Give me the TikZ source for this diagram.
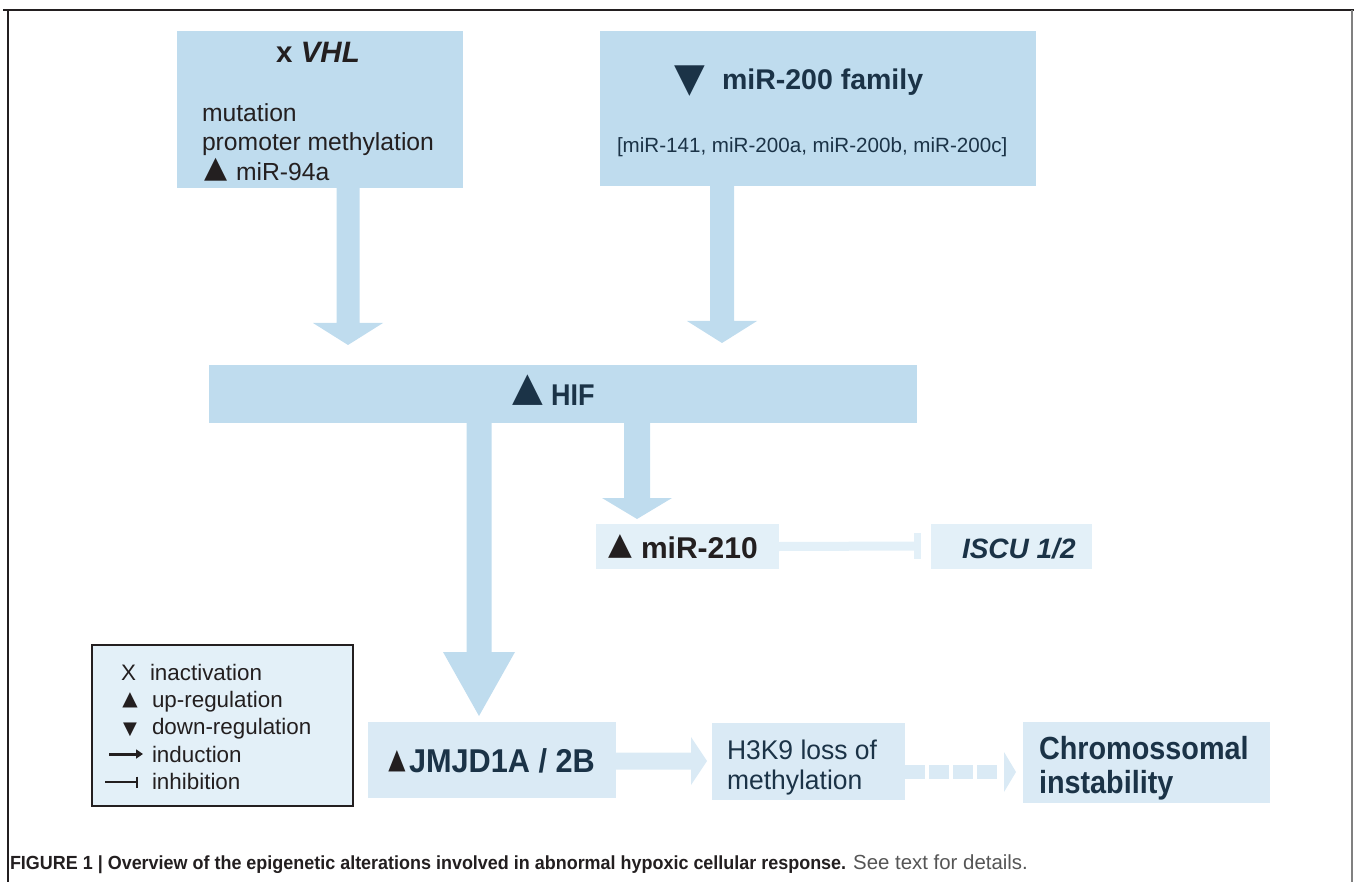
\documentclass[tikz,border=0pt]{standalone}
\usepackage{fontspec}
\setmainfont{Liberation Sans}
\newfontfamily\symfont{DejaVu Sans}
\usetikzlibrary{calc,arrows.meta}

\definecolor{boxblue}{HTML}{BFDCEE}
\definecolor{paleblue}{HTML}{DAEAF5}
\definecolor{legendblue}{HTML}{E3F0F8}
\definecolor{navy}{HTML}{1B3347}
\definecolor{ink}{HTML}{231F20}
\definecolor{capgray}{HTML}{555555}

\newcommand\fsz[1]{\fontsize{#1pt}{#1pt}\selectfont}

% vertical block arrow: start point, tip, half shaft width, half head width, head length
\newcommand\vblock[6][boxblue]{%
  \fill[#1] let \p1=(#2), \p2=(#3) in
    (\x2-#4,\y1) -- (\x2-#4,\y2+#6) -- (\x2-#5,\y2+#6) -- (\x2,\y2)
    -- (\x2+#5,\y2+#6) -- (\x2+#4,\y2+#6) -- (\x2+#4,\y1) -- cycle;}
% horizontal block arrow: start point, tip, half shaft width, half head width, head length
\newcommand\hblock[6][paleblue]{%
  \fill[#1] let \p1=(#2), \p2=(#3) in
    (\x1,\y2+#4) -- (\x2-#6,\y2+#4) -- (\x2-#6,\y2+#5) -- (\x2,\y2)
    -- (\x2-#6,\y2-#5) -- (\x2-#6,\y2-#4) -- (\x1,\y2-#4) -- cycle;}

\begin{document}
\begin{tikzpicture}[x=1pt,y=-1pt,
  bluebox/.style={fill=boxblue,inner sep=0pt,outer sep=0pt},
  palebox/.style={fill=paleblue,inner sep=0pt,outer sep=0pt},
  keybox/.style={fill=legendblue,draw=ink,line width=2pt,inner sep=0pt,outer sep=0pt},
  lbl/.style={inner sep=0pt,outer sep=0pt,anchor=base west,text=ink},
  tri/.style={inner sep=0pt,outer sep=0pt,anchor=south,font=\symfont},
  inhib/.style={draw=legendblue,line width=9pt}]
\useasboundingbox (0,0) rectangle (1354,882);

% frame
\draw[ink,line width=2pt] (3,10) -- (1354,10);
\draw[ink,line width=1.5pt] (8,10) -- (8,882);
\draw[gray,line width=1.5pt] (1352,10) -- (1352,882);

% boxes
\node[bluebox,minimum width=286pt,minimum height=157pt] (vhl) at (320,109.5) {};
\node[bluebox,minimum width=436pt,minimum height=155pt] (mir200) at (818,108.5) {};
\node[bluebox,minimum width=708pt,minimum height=58pt] (hif) at (563,394) {};
\node[palebox,fill=legendblue,minimum width=183pt,minimum height=45pt] (mir210) at (687.5,546.5) {};
\node[palebox,fill=legendblue,minimum width=161pt,minimum height=45pt] (iscu) at (1011.5,546.5) {};
\node[keybox,minimum width=261pt,minimum height=161pt] (legend) at (222.5,725.5) {};
\node[palebox,minimum width=248pt,minimum height=76pt] (jmjd) at (492,760) {};
\node[palebox,minimum width=193pt,minimum height=77pt] (h3k9) at (808.5,761.5) {};
\node[palebox,minimum width=247pt,minimum height=81pt] (chrom) at (1146.5,762.5) {};

% arrow tips
\coordinate (t1) at (348,345);
\coordinate (t2) at (722,343);
\coordinate (t3) at (479,716);
\coordinate (t4) at (637,519);
\coordinate (t5) at (707,761);
\coordinate (t6) at (1016,772);
\coordinate (bar) at (917,546);

% connectors
\vblock{vhl.south -| t1}{t1}{11.5pt}{35pt}{22pt}
\vblock{mir200.south -| t2}{t2}{12pt}{35pt}{22pt}
\vblock{hif.south -| t3}{t3}{12.5pt}{36pt}{64pt}
\vblock{hif.south -| t4}{t4}{13pt}{35pt}{21pt}
\hblock{jmjd.east |- t5}{t5}{8.5pt}{24pt}{16pt}
\draw[paleblue,line width=14pt,dash pattern=on 20pt off 4pt] (h3k9.east |- t6) -- ($(t6)+(-16,0)$);
\fill[paleblue] ($(t6)+(-12,-20)$) -- (t6) -- ($(t6)+(-12,20)$) -- cycle;
\draw[inhib] (mir210.east) -- (bar);
\draw[inhib,line width=7pt] ($(bar)+(0,-13)$) -- ($(bar)+(0,13)$);

% VHL box text
\node[lbl,anchor=base,font=\fsz{29.5}\bfseries] (vhlt) at (318,63) {x \textit{VHL}};
\node[lbl,font=\fsz{24.7}] (vhl1) at (202,122) {mutation};
\node[lbl,font=\fsz{24.7}] (vhl2) at (202,151) {promoter methylation};
\node[tri,text=ink,font=\symfont\fsz{30}] (vhltri) at (216.5,181) {▲};
\node[lbl,font=\fsz{24.7}] (vhl3) at (236,181) {miR-94a};

% miR-200 box text
\node[tri,text=navy,font=\symfont\fsz{40}] (m200tri) at (690,96) {▼};
\node[lbl,text=navy,font=\fsz{28.5}\bfseries] (m200t) at (722,90) {miR-200 family};
\node[lbl,text=navy,font=\fsz{20.6}] (m200l) at (617,153) {[miR-141, miR-200a, miR-200b, miR-200c]};

% HIF
\node[tri,text=navy,font=\symfont\fsz{40}] (hiftri) at (528,405) {▲};
\node[lbl,text=navy,font=\fsz{30}\bfseries\addfontfeature{FakeStretch=0.9}] (hift) at (551,405) {HIF};

% miR-210 and ISCU
\node[tri,text=ink,font=\symfont\fsz{31}] (m210tri) at (620,558) {▲};
\node[lbl,font=\fsz{30}\bfseries] (m210t) at (641,558) {miR-210};
\node[lbl,text=navy,font=\fsz{28}\bfseries\itshape] (iscut) at (962,558) {ISCU 1/2};

% lower row
\node[tri,text=ink,font=\symfont\fsz{28}\addfontfeature{FakeStretch=0.8}] (jmjdtri) at (397,772) {▲};
\node[lbl,text=navy,font=\fsz{33}\bfseries\addfontfeature{FakeStretch=0.93}] (jmjdt) at (409,772) {JMJD1A / 2B};
\node[lbl,text=navy,font=\fsz{27}\addfontfeature{FakeStretch=0.98}] (h3k9a) at (727,759) {H3K9 loss of};
\node[lbl,text=navy,font=\fsz{27}\addfontfeature{FakeStretch=0.98}] (h3k9b) at (727,789) {methylation};
\node[lbl,text=navy,font=\fsz{32}\bfseries\addfontfeature{FakeStretch=0.9}] (chroma) at (1039,759) {Chromossomal};
\node[lbl,text=navy,font=\fsz{32}\bfseries\addfontfeature{FakeStretch=0.9}] (chromb) at (1039,793) {instability};

% legend
\node[lbl,font=\fsz{22.4}] (kx) at (121,680) {X};
\node[lbl,font=\fsz{22.4}] (k1) at (150,680) {inactivation};
\node[tri,text=ink,font=\symfont\fsz{20}] (ktri1) at (130,708) {▲};
\node[lbl,font=\fsz{22.4}] (k2) at (152,707) {up-regulation};
\node[tri,text=ink,font=\symfont\fsz{18}] (ktri2) at (130,737) {▼};
\node[lbl,font=\fsz{22.4}] (k3) at (152,734) {down-regulation};
\coordinate (ia) at (109,754);
\coordinate (ib) at (143,754);
\draw[ink,line width=3pt,-{Triangle[length=7pt,width=9pt]}] (ia) -- (ib);
\node[lbl,font=\fsz{22.4}] (k4) at (152,762) {induction};
\coordinate (ja) at (105,782);
\coordinate (jb) at (138,782);
\draw[ink,line width=1.5pt,-{Bar[width=11pt,line width=2pt]}] (ja) -- (jb);
\node[lbl,font=\fsz{22.4}] (k5) at (152,789) {inhibition};

% caption
\node[lbl,font=\fsz{19}] (cap) at (10,869)
  {{\bfseries\addfontfeature{FakeStretch=0.945}FIGURE 1 | Overview of the epigenetic alterations involved in abnormal hypoxic cellular response.}
   {\fsz{20.4}\color{capgray}See text for details.}};
\end{tikzpicture}
\end{document}
